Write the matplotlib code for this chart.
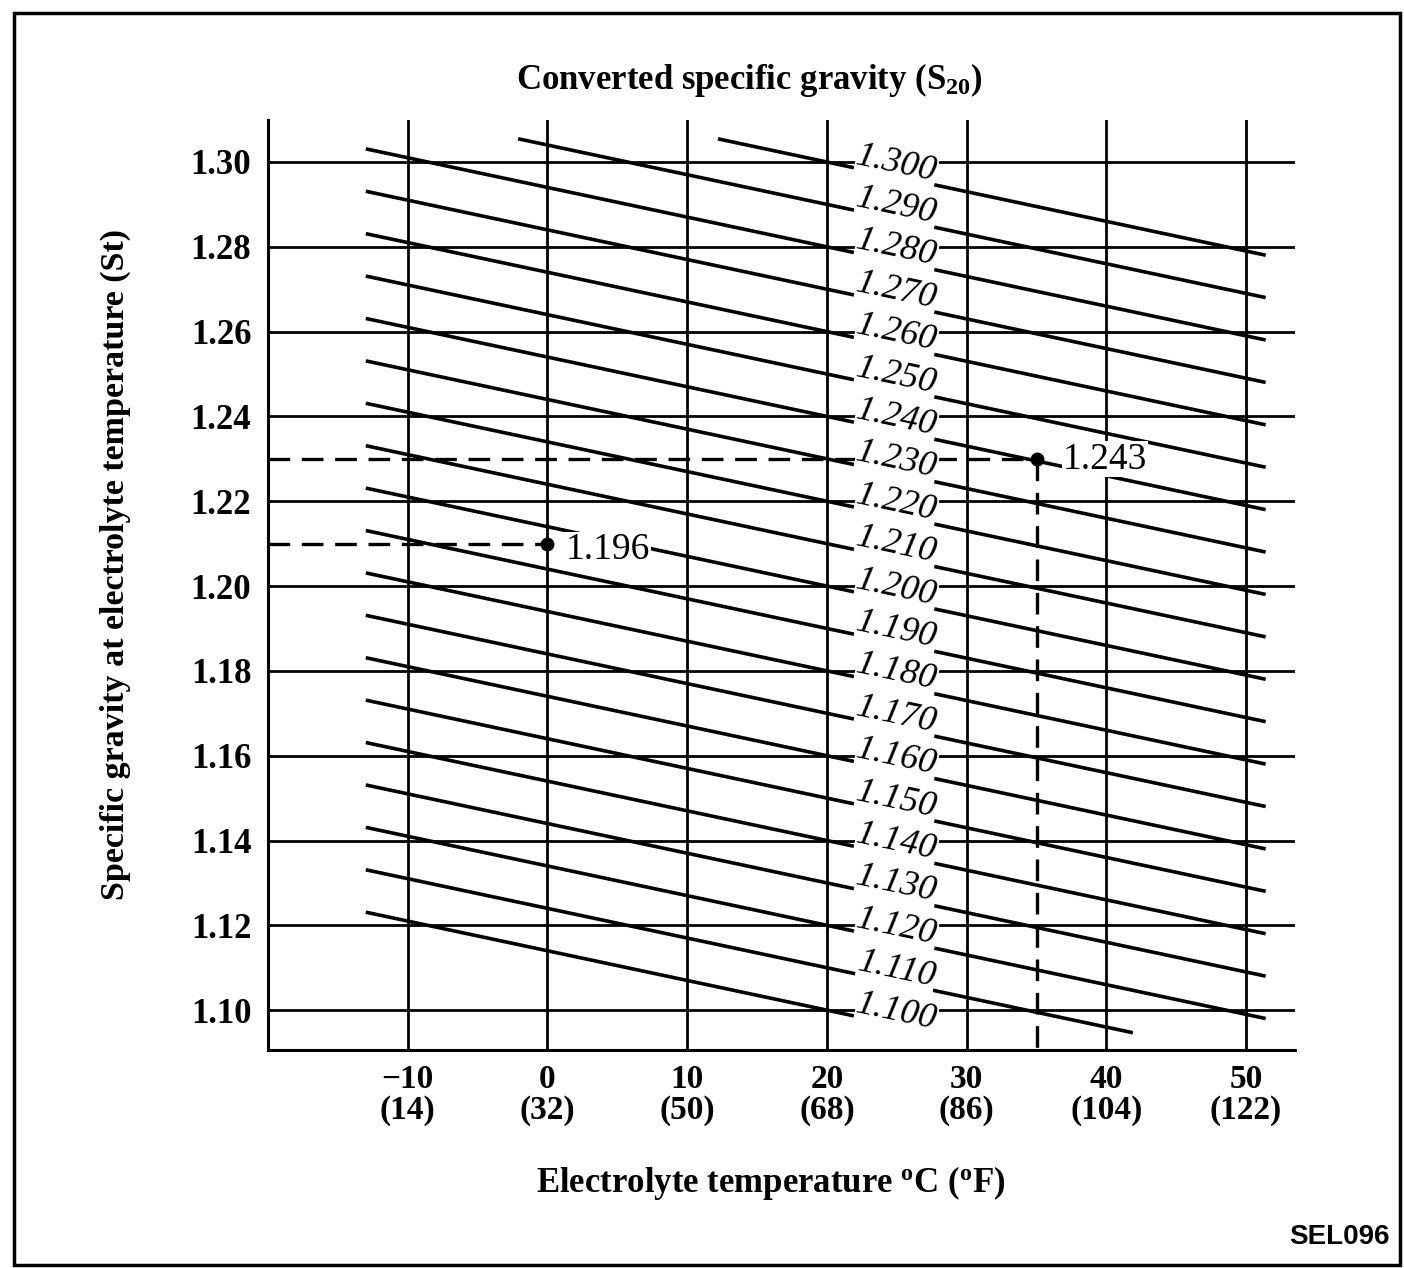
import matplotlib
matplotlib.use("Agg")
import matplotlib.pyplot as plt
from matplotlib.patches import Rectangle

plt.rcParams['font.family'] = ['Liberation Serif', 'DejaVu Serif']
plt.rcParams['mathtext.fontset'] = 'custom'
plt.rcParams['mathtext.rm'] = 'Liberation Serif:bold'
plt.rcParams['mathtext.it'] = 'Liberation Serif:italic:bold'
plt.rcParams['mathtext.bf'] = 'Liberation Serif:bold'

# converted specific gravity lines (S20)
s20_values = [1.100, 1.110, 1.120, 1.130, 1.140, 1.150, 1.160, 1.170, 1.180, 1.190,
              1.200, 1.210, 1.220, 1.230, 1.240, 1.250, 1.260, 1.270, 1.280, 1.290, 1.300]
# where each line starts / ends on the temperature axis
line_start_t = [-13, -13, -13, -13, -13, -13, -13, -13, -13, -13,
                -13, -13, -13, -13, -13, -13, -13, -13, -13, -2.1, 12.2]
line_end_t = [26.8, 41.9, 51.4, 51.4, 51.4, 51.4, 51.4, 51.4, 51.4, 51.4,
              51.4, 51.4, 51.4, 51.4, 51.4, 51.4, 51.4, 51.4, 51.4, 51.4, 51.4]
coef = 0.0007  # change of specific gravity per deg C
ref_temp = 20

temps_c = [-10, 0, 10, 20, 30, 40, 50]
temps_f = [14, 32, 50, 68, 86, 104, 122]
st_ticks = [1.10, 1.12, 1.14, 1.16, 1.18, 1.20, 1.22, 1.24, 1.26, 1.28, 1.30]

# worked examples
ex_t = [0, 35]
ex_st = [1.210, 1.230]
ex_labels = ["1.196", "1.243"]

fig = plt.figure(figsize=(14.04, 12.68), dpi=100)
ax = fig.add_axes([268/1404, 1 - 1050/1268, (1295-268)/1404, (1050-120)/1268])
ax.set_xlim(-20, 53.5)
ax.set_ylim(1.0906, 1.3099)

for s in ["top", "right"]:
    ax.spines[s].set_visible(False)
for s in ["left", "bottom"]:
    ax.spines[s].set_linewidth(2.2)

ax.set_xticks(temps_c)
ax.set_xticklabels([("\u2212%d" % -c if c < 0 else "%d" % c) + "\n(%d)" % f for c, f in zip(temps_c, temps_f)],
                   fontsize=24, fontweight="bold", linespacing=1.0)
ax.set_yticks(st_ticks)
ax.set_yticklabels(["%.2f" % v for v in st_ticks], fontsize=25, fontweight="bold")
ax.tick_params(axis="y", length=0, pad=12)
ax.tick_params(axis="x", length=0, pad=10)

for c in temps_c:
    ax.axvline(c, color="black", lw=2.0, zorder=1)
for v in st_ticks:
    ax.axhline(v, color="black", lw=2.0, zorder=1)

for s, t0, t1 in zip(s20_values, line_start_t, line_end_t):
    y0 = s - coef * (t0 - ref_temp)
    y1 = s - coef * (t1 - ref_temp)
    ax.plot([t0, t1], [y0, y1], color="black", lw=2.6, zorder=2, solid_capstyle="butt")
    ax.text(25, s - 0.0004, "%.3f" % s, fontsize=26, style="italic", rotation=-12,
            ha="center", va="center", zorder=4, rotation_mode="anchor",
            bbox=dict(facecolor="white", edgecolor="none", pad=0.3))

# dashed reading lines
for t, st in zip(ex_t, ex_st):
    ax.plot([-20, t], [st, st], color="black", lw=2.4, dashes=(6.5, 3.5), zorder=3)
ax.plot([ex_t[1], ex_t[1]], [ex_st[1], 1.0906], color="black", lw=2.4, dashes=(6.5, 3.5), zorder=3)
ax.plot(ex_t, ex_st, "o", color="black", ms=9, zorder=6)
ax.text(ex_t[0] + 1.3, ex_st[0] - 0.0015, ex_labels[0], fontsize=27, ha="left", va="center",
        zorder=5, bbox=dict(facecolor="white", edgecolor="none", pad=0.5))
ax.text(ex_t[1] + 1.9, ex_st[1] - 0.0001, ex_labels[1], fontsize=27, ha="left", va="center",
        zorder=5, bbox=dict(facecolor="white", edgecolor="none", pad=0.5))

fig.text(749/1404, 1 - 80/1268, "Converted specific gravity (S$_{\\mathrm{20}}$)",
         fontsize=25, fontweight="bold", ha="center", va="center")
fig.text(771/1404, 1 - 1183/1268, "Electrolyte temperature $^{\\mathrm{o}}$C ($^{\\mathrm{o}}$F)",
         fontsize=25, fontweight="bold", ha="center", va="center")
fig.text(115/1404, 1 - 565/1268, "Specific gravity at electrolyte temperature (St)",
         fontsize=24.5, fontweight="bold", ha="center", va="center", rotation=90)
fig.text(1390/1404, 1 - 1237/1268, "SEL096", fontsize=20, fontweight="bold",
         family="Liberation Sans", ha="right", va="center")

fig.patches.append(Rectangle((14/1404, 1 - 1265/1268), (1400-14)/1404, (1265-13)/1268,
                             transform=fig.transFigure, fill=False, edgecolor="black", lw=2.5))

fig.savefig("out.png", dpi=100)
